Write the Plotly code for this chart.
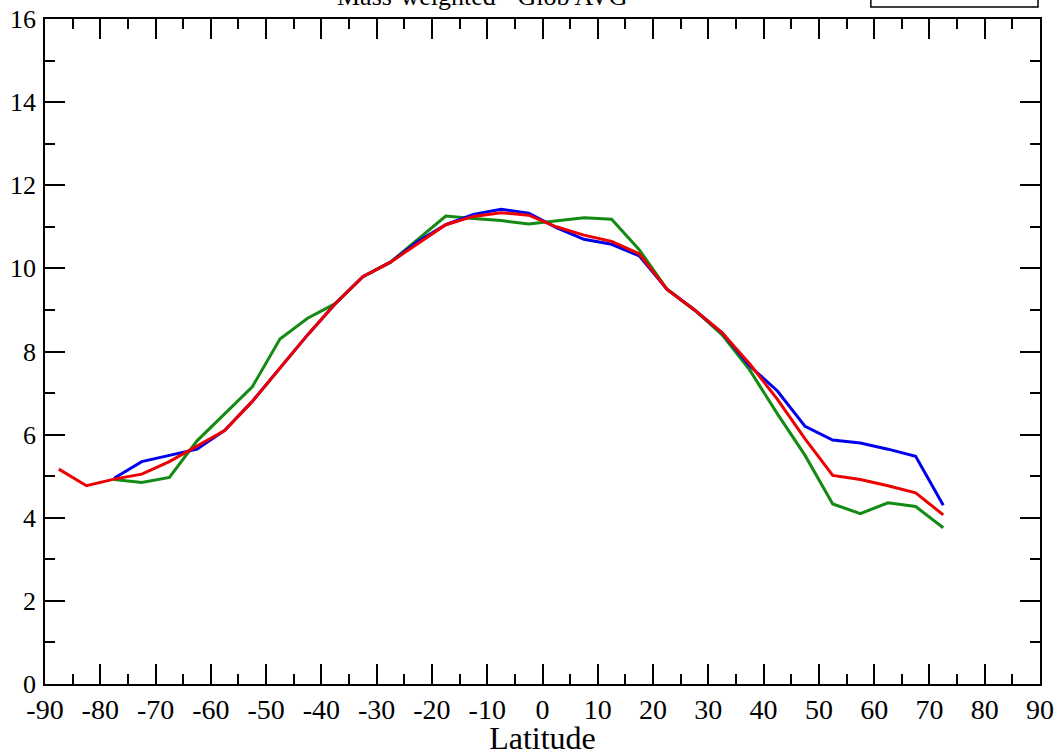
import plotly.graph_objects as go

lat_red = [-87.5, -82.5, -77.5, -72.5, -67.5, -62.5, -57.5, -52.5, -47.5, -42.5, -37.5, -32.5,
           -27.5, -22.5, -17.5, -12.5, -7.5, -2.5, 2.5, 7.5, 12.5, 17.5, 22.5, 27.5, 32.5,
           37.5, 42.5, 47.5, 52.5, 57.5, 62.5, 67.5, 72.5]
red_vals = [5.17, 4.77, 4.93, 5.05, 5.35, 5.72, 6.1, 6.8, 7.6, 8.4, 9.15, 9.8,
            10.15, 10.6, 11.05, 11.25, 11.34, 11.28, 11.0, 10.8, 10.65, 10.35, 9.5, 9.0, 8.45,
            7.7, 6.85, 5.9, 5.02, 4.92, 4.77, 4.6, 4.07]

lat_bg = [-77.5, -72.5, -67.5, -62.5, -57.5, -52.5, -47.5, -42.5, -37.5, -32.5,
          -27.5, -22.5, -17.5, -12.5, -7.5, -2.5, 2.5, 7.5, 12.5, 17.5, 22.5, 27.5, 32.5,
          37.5, 42.5, 47.5, 52.5, 57.5, 62.5, 67.5, 72.5]
blue_vals = [4.95, 5.35, 5.5, 5.65, 6.1, 6.8, 7.6, 8.4, 9.15, 9.8,
             10.15, 10.65, 11.05, 11.3, 11.42, 11.33, 10.98, 10.7, 10.58, 10.3, 9.5, 9.0, 8.45,
             7.65, 7.05, 6.2, 5.87, 5.8, 5.65, 5.48, 4.3]
green_vals = [4.92, 4.85, 4.97, 5.85, 6.5, 7.15, 8.3, 8.8, 9.15, 9.8,
              10.15, 10.7, 11.26, 11.2, 11.15, 11.07, 11.15, 11.22, 11.18, 10.45, 9.5, 9.0, 8.4,
              7.55, 6.5, 5.5, 4.33, 4.1, 4.36, 4.27, 3.76]

x_tickvals = [-90, -80, -70, -60, -50, -40, -30, -20, -10, 0, 10, 20, 30, 40, 50, 60, 70, 80, 90]
x_ticktext = ["-90", "-80", "-70", "-60", "-50", "-40", "-30", "-20", "-10", "0",
              "10", "20", "30", "40", "50", "60", "70", "80", "90"]
y_tickvals = [0, 2, 4, 6, 8, 10, 12, 14, 16]
y_ticktext = ["0", "2", "4", "6", "8", "10", "12", "14", "16"]

title_text = "Mass-weighted - Glob AVG"

FONT = "Liberation Serif"

fig = go.Figure()
fig.add_trace(go.Scatter(x=lat_bg, y=green_vals, mode="lines",
                         line=dict(color="#138a13", width=3), showlegend=False))
fig.add_trace(go.Scatter(x=lat_bg, y=blue_vals, mode="lines",
                         line=dict(color="#0000ee", width=3), showlegend=False))
fig.add_trace(go.Scatter(x=lat_red, y=red_vals, mode="lines",
                         line=dict(color="#ee0000", width=3), showlegend=False))

axis_common = dict(
    showgrid=False, zeroline=False, showline=True, linecolor="black", linewidth=1.5,
    mirror="allticks", ticks="inside", ticklen=20, tickwidth=1.5, tickcolor="black",
)

fig.update_xaxes(range=[-90, 90], tickmode="array", tickvals=x_tickvals, ticktext=x_ticktext,
                 minor=dict(tickmode="linear", tick0=-85, dtick=10, ticks="inside", ticklen=10,
                            tickwidth=1.5, tickcolor="black"),
                 tickfont=dict(family=FONT, size=28, color="black"),
                 title=dict(text="Latitude", font=dict(family=FONT, size=32, color="black"), standoff=2),
                 **axis_common)
fig.update_yaxes(range=[0, 16], tickmode="array", tickvals=y_tickvals, ticktext=y_ticktext,
                 minor=dict(tickmode="linear", tick0=1, dtick=2, ticks="inside", ticklen=10,
                            tickwidth=1.5, tickcolor="black"),
                 tickfont=dict(family=FONT, size=26, color="black"),
                 ticklabelstandoff=2,
                 **axis_common)

fig.add_shape(type="rect", xref="paper", yref="paper", x0=0.830, x1=0.998, y0=1.018, y1=1.2,
              line=dict(color="black", width=1.5), fillcolor="rgba(0,0,0,0)")
fig.add_annotation(text=title_text, xref="paper", yref="paper", x=0.44, y=1.0, yshift=6,
                   yanchor="bottom", showarrow=False,
                   font=dict(family=FONT, size=26, color="black"))

fig.update_layout(
    width=1058, height=756,
    margin=dict(l=45, r=18, t=19, b=72, autoexpand=False),
    paper_bgcolor="white", plot_bgcolor="white",
    showlegend=False,
)

fig.write_html("out.html", config={"displayModeBar": False},
               post_script="document.body.style.margin='0';")
